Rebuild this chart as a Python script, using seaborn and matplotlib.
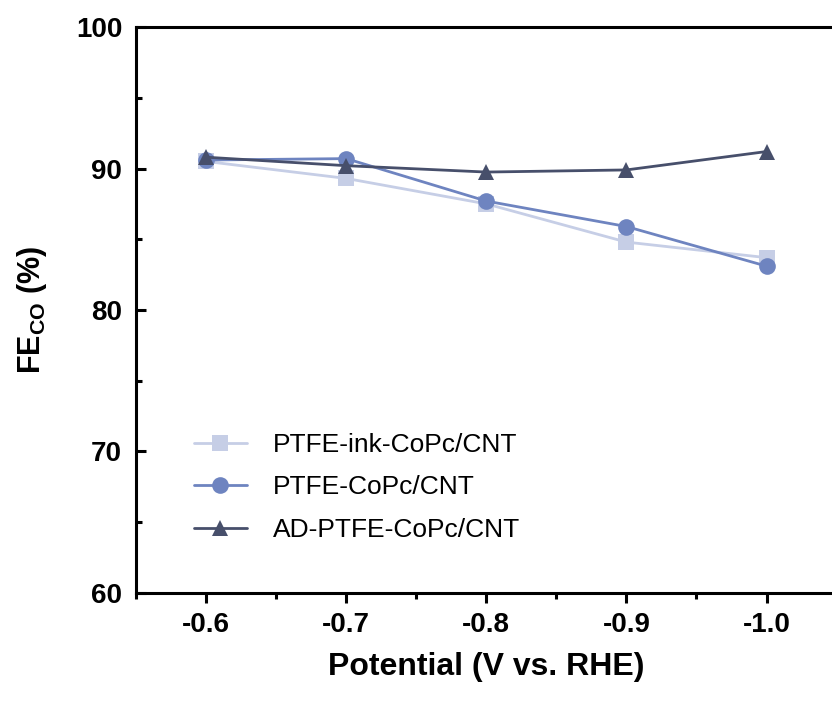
import pandas as pd
import matplotlib.pyplot as plt
import seaborn as sns
from matplotlib.ticker import MultipleLocator

# Data
potential = [-0.6, -0.7, -0.8, -0.9, -1.0]
fe_ink = [90.5, 89.3, 87.5, 84.8, 83.7]
fe_ptfe = [90.6, 90.7, 87.7, 85.9, 83.1]
fe_ad = [90.8, 90.2, 89.75, 89.9, 91.2]
labels = ['PTFE-ink-CoPc/CNT', 'PTFE-CoPc/CNT', 'AD-PTFE-CoPc/CNT']

sns.set_style('ticks')
plt.rcParams['font.family'] = ['Liberation Sans', 'DejaVu Sans']
plt.rcParams['text.color'] = 'black'
plt.rcParams['axes.labelcolor'] = 'black'
plt.rcParams['xtick.color'] = 'black'
plt.rcParams['ytick.color'] = 'black'

fig = plt.figure(figsize=(8.32, 7.02), dpi=100)
ax = fig.add_axes([0.1635, 0.1553, 0.842, 0.8062])

series = [
    (fe_ink, labels[0], 's', '#c6cee6'),
    (fe_ptfe, labels[1], 'o', '#6e84c0'),
    (fe_ad, labels[2], '^', '#474f6b'),
]
for vals, lab, mk, col in series:
    df = pd.DataFrame({'Potential': potential, 'FE': vals})
    sns.lineplot(data=df, x='Potential', y='FE', ax=ax, marker=mk, color=col,
                 markersize=12, markeredgewidth=0, linewidth=2, label=lab)

ax.set_xlim(-0.55, -1.05)
ax.set_ylim(60, 100)
ax.set_xticks(potential)
ax.set_xticklabels(['-0.6', '-0.7', '-0.8', '-0.9', '-1.0'])
ax.xaxis.set_minor_locator(MultipleLocator(0.05))
ax.yaxis.set_major_locator(MultipleLocator(10))
ax.yaxis.set_minor_locator(MultipleLocator(5))

for s in ax.spines.values():
    s.set_linewidth(2.2)
    s.set_color('black')

ax.tick_params(axis='x', which='major', direction='out', length=7, width=2.2,
               labelsize=20, pad=7)
ax.tick_params(axis='x', which='minor', direction='out', length=4, width=2.2)
ax.tick_params(axis='y', which='major', direction='in', length=7, width=2.2,
               labelsize=20, pad=10)
ax.tick_params(axis='y', which='minor', direction='in', length=4, width=2.2)
for t in ax.get_xticklabels() + ax.get_yticklabels():
    t.set_fontweight('bold')

ax.set_xlabel('Potential (V vs. RHE)', fontsize=23, fontweight='bold', labelpad=10)
ax.set_ylabel('FE$_\\mathregular{CO}$ (%)', fontsize=22, fontweight='bold', labelpad=19)

ax.legend(loc='upper left', bbox_to_anchor=(0.049, 0.325), frameon=False,
          fontsize=19, handlelength=2.0, labelspacing=0.7, handletextpad=1.0)

fig.savefig('out.png', dpi=100)
